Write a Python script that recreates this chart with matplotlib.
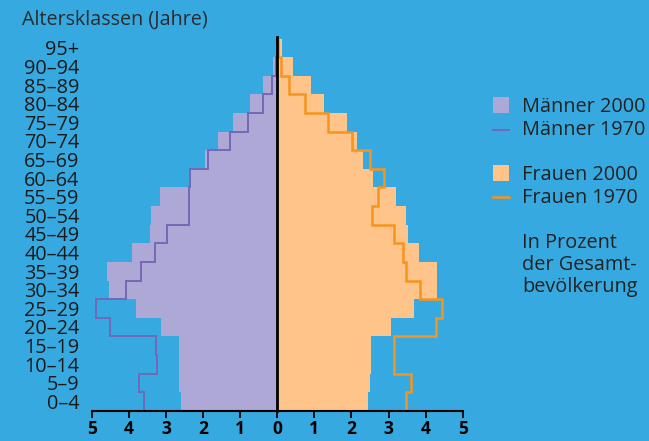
import numpy as np
import matplotlib.pyplot as plt
from matplotlib.patches import Rectangle
from matplotlib.lines import Line2D

plt.rcParams['font.family'] = ['Open Sans', 'DejaVu Sans']

# Altersklassen, von unten (0-4) nach oben (95+)
groups = ["0–4", "5–9", "10–14", "15–19", "20–24", "25–29", "30–34", "35–39",
          "40–44", "45–49", "50–54", "55–59", "60–64", "65–69", "70–74",
          "75–79", "80–84", "85–89", "90–94", "95+"]

# Prozent der Gesamtbevoelkerung
maenner2000 = [2.61, 2.66, 2.64, 2.64, 3.15, 3.81, 4.54, 4.60, 3.91, 3.44,
               3.41, 3.17, 2.37, 1.95, 1.60, 1.20, 0.73, 0.38, 0.13, 0.03]
maenner1970 = [3.61, 3.72, 3.25, 3.28, 4.52, 4.89, 4.08, 3.68, 3.31, 2.97,
               2.39, 2.37, 2.35, 1.86, 1.29, 0.80, 0.38, 0.15, 0.04, 0.01]
frauen2000 = [2.44, 2.51, 2.52, 2.53, 3.06, 3.68, 4.30, 4.32, 3.81, 3.52,
              3.48, 3.21, 2.59, 2.32, 2.16, 1.87, 1.27, 0.91, 0.42, 0.12]
frauen1970 = [3.48, 3.60, 3.15, 3.14, 4.29, 4.44, 3.84, 3.48, 3.38, 3.14,
              2.54, 2.72, 2.87, 2.51, 2.01, 1.37, 0.74, 0.32, 0.09, 0.02]

bg = '#36A9E0'
c_m = '#ADA8D6'
c_m_line = '#7468B6'
c_f = '#FFC48A'
c_f_line = '#F7941D'

fig = plt.figure(figsize=(6.49, 4.41), dpi=100, facecolor=bg)
ax = fig.add_axes([92 / 649, 1 - 410.7 / 441, (462.7 - 92) / 649, (410.7 - 38.7) / 441])
ax.set_facecolor(bg)

y = np.arange(len(groups))
m2000 = np.array(maenner2000)
f2000 = np.array(frauen2000)

ax.barh(y, -m2000, height=1.0, align='edge', color=c_m, linewidth=0)
ax.barh(y, f2000, height=1.0, align='edge', color=c_f, linewidth=0)

edges = np.arange(len(groups) + 1)
ax.stairs(-np.array(maenner1970), edges, orientation='horizontal', baseline=None,
          color=c_m_line, linewidth=1.4)
ax.stairs(np.array(frauen1970), edges, orientation='horizontal', baseline=None,
          color=c_f_line, linewidth=1.8)

ax.plot([0, 0], [0, 20.1], color='black', linewidth=2, clip_on=False)

ax.set_xlim(-5, 5)
ax.set_ylim(0, 20)
ax.set_xticks(np.arange(-5, 6))
ax.set_xticklabels([str(abs(v)) for v in range(-5, 6)], fontsize=12.5, fontweight='bold')
ax.set_yticks(y + 0.5)
ax.set_yticklabels(groups, fontsize=14.3, color='#1a1a1a')
ax.tick_params(axis='y', length=0, pad=9)
ax.tick_params(axis='x', length=5, width=1.3, pad=1.5, direction='out')
for s in ['left', 'right', 'top']:
    ax.spines[s].set_visible(False)
ax.spines['bottom'].set_linewidth(1.5)

fig.text(22 / 649, 1 - 25 / 441, "Altersklassen (Jahre)", fontsize=14.2,
         color='#2b2b2b', va='baseline', ha='left')

# Legende
def fx(px):
    return px / 649

def fy(py):
    return 1 - py / 441

fig.add_artist(Rectangle((fx(493), fy(113)), fx(16), 16 / 441, transform=fig.transFigure,
                         color=c_m, linewidth=0))
fig.add_artist(Line2D([fx(493), fx(509)], [fy(130), fy(130)], transform=fig.transFigure,
                      color=c_m_line, linewidth=1.4))
fig.add_artist(Rectangle((fx(493), fy(181)), fx(16), 16 / 441, transform=fig.transFigure,
                         color=c_f, linewidth=0))
fig.add_artist(Line2D([fx(493), fx(509)], [fy(197), fy(197)], transform=fig.transFigure,
                      color=c_f_line, linewidth=1.8))

leg_txt = [("Männer 2000", 112), ("Männer 1970", 135), ("Frauen 2000", 180),
           ("Frauen 1970", 203), ("In Prozent", 248), ("der Gesamt-", 270),
           ("bevölkerung", 292)]
for t, py in leg_txt:
    fig.text(fx(522), fy(py), t, fontsize=14.3, color='#222222', va='baseline', ha='left')

fig.savefig('out.png', dpi=100, facecolor=bg)
